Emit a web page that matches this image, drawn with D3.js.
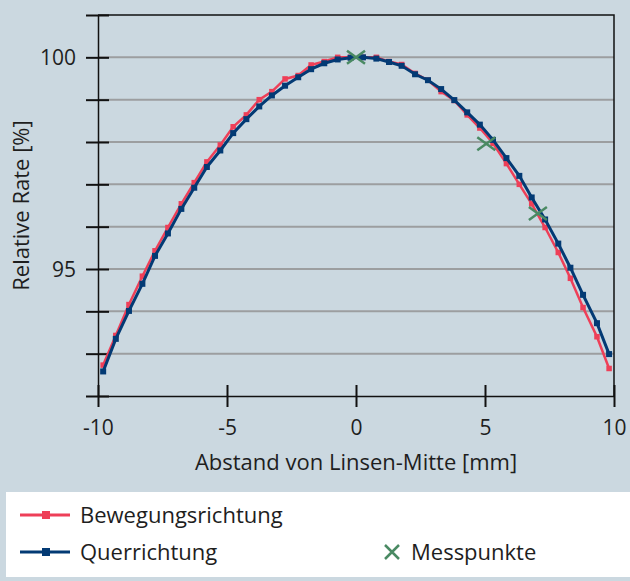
<!DOCTYPE html>
<html>
<head>
<meta charset="utf-8">
<script src="https://cdn.jsdelivr.net/npm/d3@7/dist/d3.min.js"></script>
<style>
body { margin: 0; background: #cbd8e0; }
text { font-family: "Open Sans", sans-serif; fill: #1e1e1e; }
</style>
</head>
<body>
<svg id="rate_svg" width="630" height="581"></svg>
<script>

// Abstand von Linsen-Mitte [mm]
var abstand = [-9.80, -9.31, -8.80, -8.28, -7.79, -7.29, -6.77, -6.27, -5.78, -5.26,
               -4.76, -4.25, -3.75, -3.26, -2.75, -2.24, -1.74, -1.23, -0.71, -0.21,
                0.27,  0.79,  1.28,  1.77,  2.29,  2.79,  3.30,  3.81,  4.31,  4.80,
                5.31,  5.83,  6.33,  6.81,  7.33,  7.84,  8.31,  8.80,  9.34,  9.81];

// Relative Rate [%]
var bewegungsrichtung = [92.73, 93.43, 94.16, 94.83, 95.43, 95.98, 96.54, 97.04, 97.53, 97.93,
                         98.36, 98.64, 99.00, 99.19, 99.49, 99.57, 99.82, 99.90, 100.00, 100.00,
                         100.00, 100.00, 99.90, 99.83, 99.62, 99.46, 99.19, 98.98, 98.64, 98.33,
                         97.97, 97.49, 97.00, 96.54, 95.98, 95.39, 94.78, 94.09, 93.40, 92.65];

var querrichtung = [92.58, 93.35, 94.01, 94.65, 95.31, 95.84, 96.42, 96.92, 97.41, 97.80,
                    98.21, 98.54, 98.84, 99.10, 99.33, 99.53, 99.72, 99.86, 99.95, 99.99,
                    100.00, 99.97, 99.89, 99.80, 99.60, 99.46, 99.25, 98.99, 98.70, 98.41,
                    98.05, 97.62, 97.20, 96.69, 96.17, 95.60, 95.03, 94.39, 93.72, 92.99];

var messpunkteX = [0, 5.05, 7.05];
var messpunkteY = [100, 97.96, 96.31];

var xTicks = [-10, -5, 0, 5, 10];
var yTicks = [92, 93, 94, 95, 96, 97, 98, 99, 100, 101];
var yLabels = [95, 100];
var gridValues = [93, 94, 95, 96, 97, 98, 99, 100];

var legendNames = ["Bewegungsrichtung", "Querrichtung", "Messpunkte"];
var colorRed = "#ee3f58";
var colorBlue = "#033a74";
var colorGreen = "#4a8a63";

var margin = {top: 15, left: 98, right: 16, bottom: 185};
var width = 630 - margin.left - margin.right;
var height = 581 - margin.top - margin.bottom;

var svg = d3.select("#rate_svg");
var g = svg.append("g").attr("transform", "translate(" + margin.left + "," + margin.top + ")");

var x = d3.scaleLinear().domain([-10, 10]).range([0, width]);
var y = d3.scaleLinear().domain([92, 101]).range([height, 0]);

// grid lines
g.selectAll("line.grid")
    .data(gridValues)
    .enter().append("line")
    .attr("class", "grid")
    .attr("x1", 0).attr("x2", width)
    .attr("y1", function(d) { return y(d); })
    .attr("y2", function(d) { return y(d); })
    .style("stroke", "#9c9ea0")
    .style("stroke-width", 2);

// frame top + right
g.append("path")
    .attr("d", "M0," + y(101) + "H" + width + "V" + height)
    .style("fill", "none")
    .style("stroke", "#111")
    .style("stroke-width", 1.5);

var yAxis = d3.axisLeft(y)
    .tickValues(yTicks)
    .tickSize(12)
    .tickSizeOuter(0)
    .tickPadding(10)
    .tickFormat(function(d) { return yLabels.indexOf(d) >= 0 ? String(d) : ""; });

var yAxisG = g.append("g").call(yAxis);
yAxisG.select(".domain").style("stroke", "#111").style("stroke-width", 1.5);
yAxisG.selectAll(".tick line").attr("x2", -12).attr("x1", 11).style("stroke", "#111").style("stroke-width", 2);
yAxisG.selectAll(".tick text").style("font-size", "21px").attr("dy", "0.36em");

var xAxis = d3.axisBottom(x)
    .tickValues(xTicks)
    .tickSize(11)
    .tickSizeOuter(0)
    .tickPadding(13)
    .tickFormat(function(d) { return String(d); });

var xAxisG = g.append("g").attr("transform", "translate(0," + height + ")").call(xAxis);
xAxisG.select(".domain").style("stroke", "#111").style("stroke-width", 1.5);
xAxisG.selectAll(".tick line").attr("y1", -11).style("stroke", "#111").style("stroke-width", 2);
xAxisG.selectAll(".tick text").style("font-size", "21px");

// axis titles
g.append("text")
    .attr("x", x(0))
    .attr("y", height + 74)
    .attr("text-anchor", "middle")
    .style("font-size", "22px")
    .text("Abstand von Linsen-Mitte [mm]");

svg.append("text")
    .attr("transform", "translate(29," + (margin.top + y(96.5)) + ") rotate(-90)")
    .attr("text-anchor", "middle")
    .style("font-size", "22px")
    .text("Relative Rate [%]");

function draw_series(values, color, lineWidth, markerSize) {
    var pts = abstand.map(function(a, i) { return [a, values[i]]; });
    var line = d3.line()
        .x(function(d) { return x(d[0]); })
        .y(function(d) { return y(d[1]); });

    g.append("path")
        .datum(pts)
        .attr("d", line)
        .style("fill", "none")
        .style("stroke", color)
        .style("stroke-width", lineWidth);

    g.append("g").selectAll("rect")
        .data(pts)
        .enter().append("rect")
        .attr("x", function(d) { return x(d[0]) - markerSize / 2; })
        .attr("y", function(d) { return y(d[1]) - markerSize / 2; })
        .attr("width", markerSize)
        .attr("height", markerSize)
        .style("fill", color);
}

draw_series(bewegungsrichtung, colorRed, 2.5, 5.5);
draw_series(querrichtung, colorBlue, 3, 6);

function cross_path(cx, cy, w, h) {
    return "M" + (cx - w) + "," + (cy - h) + "L" + (cx + w) + "," + (cy + h) +
           "M" + (cx - w) + "," + (cy + h) + "L" + (cx + w) + "," + (cy - h);
}

g.selectAll("path.mess")
    .data(messpunkteX)
    .enter().append("path")
    .attr("class", "mess")
    .attr("d", function(d, i) { return cross_path(x(d), y(messpunkteY[i]), 9, 6.5); })
    .style("fill", "none")
    .style("stroke", colorGreen)
    .style("stroke-width", 2.5);

// legend
var legend = svg.append("g");
legend.append("rect")
    .attr("x", 6).attr("y", 492)
    .attr("width", 624).attr("height", 85)
    .style("fill", "#fff");

function legend_line(ly, color, lw) {
    legend.append("line")
        .attr("x1", 20).attr("x2", 70)
        .attr("y1", ly).attr("y2", ly)
        .style("stroke", color).style("stroke-width", lw);
    legend.append("rect")
        .attr("x", 42).attr("y", ly - 4)
        .attr("width", 8).attr("height", 8)
        .style("fill", color);
}

legend_line(515, colorRed, 3);
legend_line(552, colorBlue, 3);

legend.append("path")
    .attr("d", cross_path(392, 552, 7, 7))
    .style("fill", "none")
    .style("stroke", colorGreen)
    .style("stroke-width", 2.5);

legend.selectAll("text")
    .data(legendNames)
    .enter().append("text")
    .attr("x", function(d, i) { return i == 2 ? 411 : 80; })
    .attr("y", function(d, i) { return i == 0 ? 523 : 560; })
    .style("font-size", "22px")
    .text(function(d) { return d; });

</script>
</body>
</html>
